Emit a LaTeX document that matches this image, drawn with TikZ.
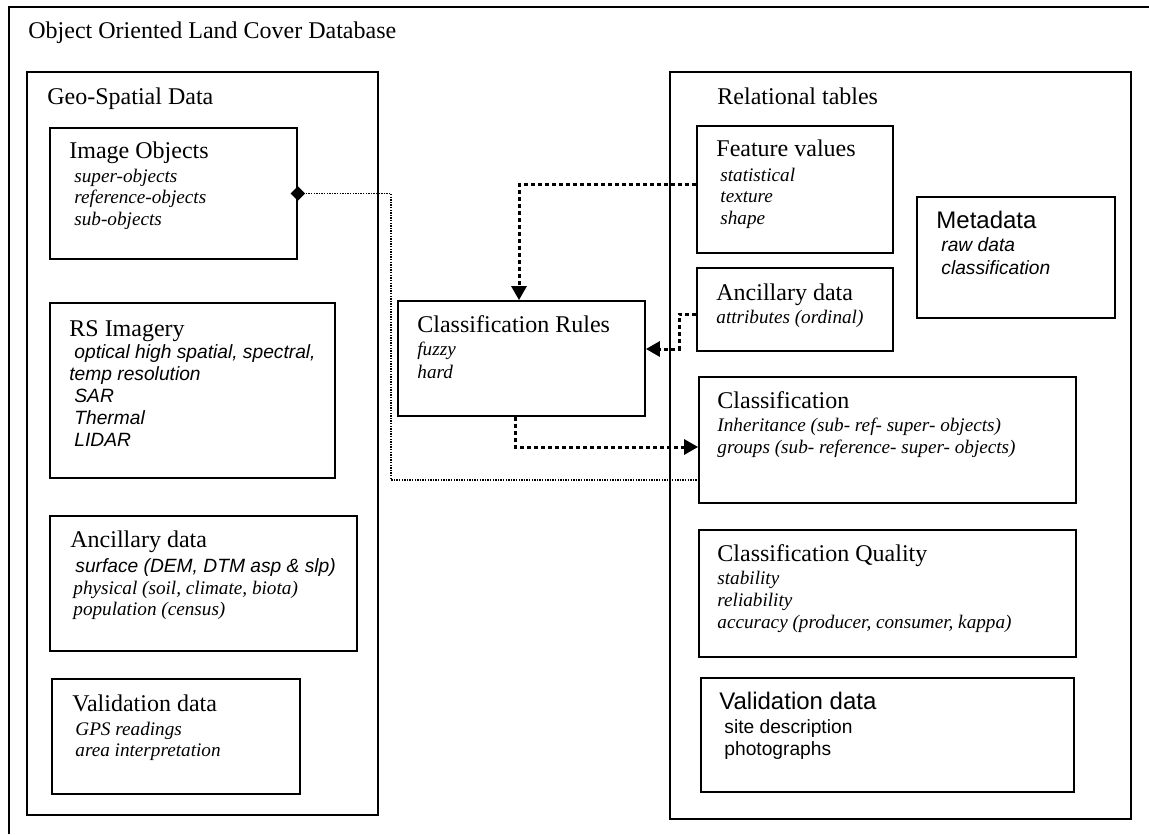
\documentclass[tikz,border=0pt]{standalone}
\usepackage{fontspec}
\setmainfont{Liberation Serif}
\newfontfamily\arial{Liberation Sans}
\usetikzlibrary{arrows.meta,fit,shapes.geometric}
\tikzset{
  box/.style={draw, line width=0.9pt, inner sep=0pt},
  title/.style={anchor=base west, inner sep=0pt, font=\fontsize{12}{14}\selectfont},
  atitle/.style={title, font=\fontsize{12}{14}\selectfont\arial},
  item/.style={anchor=base west, inner sep=0pt, font=\fontsize{9.6}{11}\selectfont\itshape},
  aitem/.style={item, font=\fontsize{9.6}{11}\selectfont\arial\itshape},
  aplain/.style={item, font=\fontsize{9.6}{11}\selectfont\arial},
  flow/.style={line width=1.5pt, dash pattern=on 2pt off 1.5pt, -{Triangle[length=7pt,width=7.5pt]}},
  link/.style={line width=0.8pt, dash pattern=on 0.7pt off 0.6pt}
}
\begin{document}
\begin{tikzpicture}[x=0.5pt,y=-0.5pt]
\useasboundingbox (0,0) rectangle (1149,834);
% outer frame, cut by the page on the right and at the bottom
\draw[line width=0.9pt] (9,834) -- (9,7) -- (1149,7);
\node[title] (db) at (28,39) {Object Oriented Land Cover Database};

% left column
\node[box, fit={(27,72) (378,815)}] (geo) {};
\node[title] (geo-t) at (47,105) {Geo-Spatial Data};

\node[box, fit={(50,128) (297,259)}] (io) {};
\node[title] (io-t) at (69,159) {Image Objects};
\foreach \s [count=\i] in {super-objects,reference-objects,sub-objects}
  \node[item] (io-\i) at (74,162+21*\i) {\s};

\node[box, fit={(50,303) (335,478)}] (rs) {};
\node[title] (rs-t) at (69,336) {RS Imagery};
\node[aitem] (rs-1) at (74,358) {optical high spatial, spectral,};
\node[aitem] (rs-2) at (69,380) {temp resolution};
\foreach \s [count=\i from 3] in {SAR,Thermal,LIDAR}
  \node[aitem] (rs-\i) at (74,336+22*\i) {\s};

\node[box, fit={(50,516) (357,651)}] (anc) {};
\node[title] (anc-t) at (70,547) {Ancillary data};
\node[aitem] (anc-1) at (75,572) {surface (DEM, DTM asp \& slp)};
\node[item] (anc-2) at (73,594) {physical (soil, climate, biota)};
\node[item] (anc-3) at (73,615) {population (census)};

\node[box, fit={(52,679) (300,794)}] (val) {};
\node[title] (val-t) at (72,711) {Validation data};
\node[item] (val-1) at (75,735) {GPS readings};
\node[item] (val-2) at (75,756) {area interpretation};

% middle
\node[box, fit={(398,301) (645,416)}] (cr) {};
\node[title] (cr-t) at (417,332) {Classification Rules};
\node[item] (cr-1) at (417,355) {fuzzy};
\node[item] (cr-2) at (417,378) {hard};

% right column
\node[box, fit={(670,72) (1131,819)}] (rel) {};
\node[title] (rel-t) at (717,105) {Relational tables};

\node[box, fit={(697,126) (893,253)}] (fv) {};
\node[title] (fv-t) at (716,157) {Feature values};
\foreach \s [count=\i] in {statistical,texture,shape}
  \node[item] (fv-\i) at (720,161+21*\i) {\s};

\node[box, fit={(697,268) (893,351)}] (anc2) {};
\node[title] (anc2-t) at (716,300) {Ancillary data};
\node[item] (anc2-1) at (716,323) {attributes (ordinal)};

\node[box, fit={(917,197) (1115,318)}] (meta) {};
\node[atitle] (meta-t) at (936,228) {Metadata};
\node[aitem] (meta-1) at (941,251) {raw data};
\node[aitem] (meta-2) at (941,274) {classification};

\node[box, fit={(699,377) (1076,503)}] (cls) {};
\node[title] (cls-t) at (717,408) {Classification};
\node[item] (cls-1) at (717,431) {Inheritance (sub- ref- super- objects)};
\node[item] (cls-2) at (717,453) {groups (sub- reference- super- objects)};

\node[box, fit={(699,530) (1076,657)}] (cq) {};
\node[title] (cq-t) at (717,561) {Classification Quality};
\foreach \s [count=\i] in {stability,reliability,{accuracy (producer, consumer, kappa)}}
  \node[item] (cq-\i) at (717,562+22*\i) {\s};

\node[box, fit={(701,678) (1074,792)}] (val2) {};
\node[atitle] (val2-t) at (719,709) {Validation data};
\node[aplain] (val2-1) at (724,733) {site description};
\node[aplain] (val2-2) at (724,755) {photographs};

% connectors
\node[diamond, fill, aspect=1, inner sep=0pt, minimum size=7.5pt] (dm) at (io.east) {};
\coordinate (bend) at (391,480);
\draw[link] (dm.east) -| (bend) -- (bend -| cls.west);
\draw[flow] ([yshift=2.25pt]fv.west) -| ([xshift=-1.25pt]cr.north);
\draw[flow] ([yshift=-2.25pt]anc2.west) -- ++(-17,0) |- ([yshift=4.75pt]cr.east);
\draw[flow] ([xshift=-3.25pt]cr.south) |- ([yshift=-3.5pt]cls.west);
\end{tikzpicture}
\end{document}
